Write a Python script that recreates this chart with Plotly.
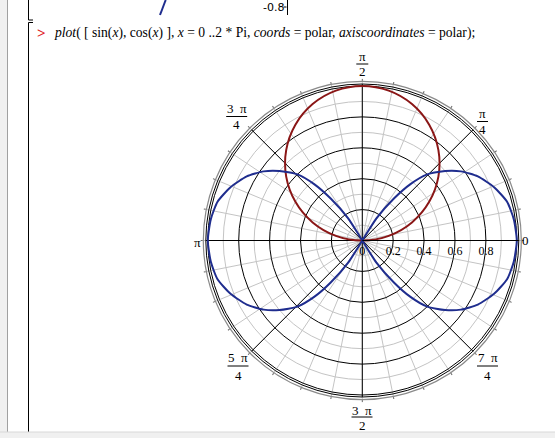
import plotly.graph_objects as go

# ---------------- data ----------------
# r = sin(x) curve (red), angle in degrees
red_theta = [0, 10, 20, 30, 40, 50, 60, 70, 80, 90, 100, 110, 120, 130, 140, 150, 160, 170, 180]
red_r = [0.0, 0.174, 0.342, 0.50, 0.643, 0.766, 0.866, 0.94, 0.985, 1.0,
         0.985, 0.94, 0.866, 0.766, 0.643, 0.50, 0.342, 0.174, 0.0]

# cos(x) curve (blue), figure-eight path as drawn
blue_theta = [0, 8, 15, 22, 29, 35, 40, 45.5, 49.5, 53, 57.5, 60,
              237.5, 233, 229.5, 225.5, 220, 215, 209, 202, 195, 188, 180,
              172, 165, 158, 151, 145, 140, 134.5, 130.5, 127, 122.5, 120,
              302.5, 307, 310.5, 314.5, 320, 325, 331, 338, 345, 352, 360]
blue_r = [1.0, 0.99, 0.97, 0.92, 0.855, 0.78, 0.70, 0.60, 0.48, 0.34, 0.17, 0.0,
          0.17, 0.34, 0.48, 0.60, 0.70, 0.78, 0.855, 0.92, 0.97, 0.99, 1.0,
          0.99, 0.97, 0.92, 0.855, 0.78, 0.70, 0.60, 0.48, 0.34, 0.17, 0.0,
          0.17, 0.34, 0.48, 0.60, 0.70, 0.78, 0.855, 0.92, 0.97, 0.99, 1.0]

radial_ticks = [0, 0.2, 0.4, 0.6, 0.8, 1.0]
radial_ticktext = ["0", "0.2", "0.4", "0.6", "0.8", ""]
minor_radial = [0.1, 0.3, 0.5, 0.7, 0.9]
major_angles = [0, 45, 90, 135, 180, 225, 270, 315]
minor_angles = [i * 11.25 for i in range(32)]

# ---------------- geometry ----------------
W, H = 555, 438
CX, CY = 362.3, 240.5       # pole in pixels
R_UNIT = 154.5              # pixels per radial unit
R_OUT = 156.5               # black outer ring
R_OUT2 = 159.0              # grey outer ring

def px(x):
    return x / W

def py(y):
    return 1 - y / H

def dom(R):
    return dict(x=[px(CX - R), px(CX + R)], y=[py(CY + R), py(CY - R)])

SERIF = "Liberation Serif"

fig = go.Figure()
fig.add_trace(go.Scatterpolar(r=[], theta=[], subplot="polar", showlegend=False))
fig.add_trace(go.Scatterpolar(r=red_r, theta=red_theta, mode="lines", subplot="polar2",
                              line=dict(color="#8a1616", width=2, shape="spline"),
                              showlegend=False, hoverinfo="skip"))
fig.add_trace(go.Scatterpolar(r=blue_r, theta=blue_theta, mode="lines", subplot="polar2",
                              line=dict(color="#1f2d8e", width=2, shape="spline", smoothing=0.6),
                              showlegend=False, hoverinfo="skip"))

fig.update_layout(
    width=W, height=H, autosize=False,
    margin=dict(l=0, r=0, t=0, b=0),
    paper_bgcolor="white",
    polar=dict(
        domain=dom(R_OUT2),
        bgcolor="white",
        radialaxis=dict(range=[0, R_OUT2 / R_UNIT], tickvals=minor_radial,
                        showticklabels=False, ticks="", showline=False,
                        gridcolor="#c4c4c4", gridwidth=1),
        angularaxis=dict(tickvals=minor_angles, showticklabels=False,
                         ticks="outside", ticklen=2, tickcolor="#666",
                         gridcolor="#c4c4c4", gridwidth=1,
                         showline=True, linecolor="#8a8a8a", linewidth=1.2,
                         rotation=0, direction="counterclockwise"),
    ),
    polar2=dict(
        domain=dom(R_OUT),
        bgcolor="rgba(0,0,0,0)",
        radialaxis=dict(range=[0, R_OUT / R_UNIT], tickvals=radial_ticks,
                        ticktext=radial_ticktext, angle=0,
                        tickfont=dict(family=SERIF, size=12, color="black"),
                        ticks="", showline=True, linecolor="black", linewidth=1,
                        gridcolor="black", gridwidth=1),
        angularaxis=dict(tickvals=major_angles, showticklabels=False, ticks="",
                         gridcolor="black", gridwidth=1,
                         showline=True, linecolor="black", linewidth=1,
                         rotation=0, direction="counterclockwise"),
    ),
)

ann = []
shapes = []

def text(x, y, s, size=13, color="black", family=SERIF, xanchor="center"):
    ann.append(dict(x=px(x), y=py(y), xref="paper", yref="paper", text=s, showarrow=False,
                    xanchor=xanchor, yanchor="middle",
                    font=dict(family=family, size=size, color=color)))

def hline(x0, x1, y, color="black", width=1):
    shapes.append(dict(type="line", xref="paper", yref="paper", x0=px(x0), x1=px(x1),
                       y0=py(y), y1=py(y), line=dict(color=color, width=width)))

def vline(x, y0, y1, color="black", width=1):
    shapes.append(dict(type="line", xref="paper", yref="paper", x0=px(x), x1=px(x),
                       y0=py(y0), y1=py(y1), line=dict(color=color, width=width)))

def frac(xc, ynum, ybar, yden, num, den, half):
    text(xc, ynum, num)
    hline(xc - half, xc + half, ybar)
    text(xc, yden, den)

# angular labels
frac(362.3, 57, 64, 71.5, "π", "2", 6)
frac(236.7, 108, 116.5, 124.5, "3&nbsp;&nbsp;π", "4", 10.5)
frac(482.5, 113, 121.5, 130, "π", "4", 5.5)
frac(238, 357, 366, 375, "5&nbsp;&nbsp;π", "4", 10.5)
frac(487.5, 357, 366, 375.5, "7&nbsp;&nbsp;π", "4", 10.5)
frac(362, 410, 417, 425, "3&nbsp;&nbsp;π", "2", 10.5)
text(197.5, 242, "π")
text(525.5, 240.5, "0")

# command line
text(41, 33, "<b>&gt;</b>", size=15, color="#e0201c")
text(52, 33, "<i>plot</i>( [ sin(<i>x</i>), cos(<i>x</i>) ], <i>x</i> = 0 ..2 * Pi, "
             "<i>coords</i> = polar, <i>axiscoordinates</i> = polar);",
     size=13.6, xanchor="left")

# previous plot fragment at top
text(273, 7, "-0.8", size=11, family="DejaVu Sans")
hline(283.5, 286.5, 7)
vline(287.5, 0, 15)
shapes.append(dict(type="line", xref="paper", yref="paper", x0=px(160), y0=py(15),
                   x1=px(165.7), y1=py(0), line=dict(color="#1f2d8e", width=2)))

# worksheet decorations
shapes.append(dict(type="rect", xref="paper", yref="paper", x0=0, x1=px(7), y0=0, y1=1,
                   fillcolor="#f0f0f0", line=dict(width=0), layer="below"))
vline(7.5, 0, 432, color="#a0a0a0")
vline(28.5, 0, 20)
hline(28.5, 33, 20)
vline(28.5, 22.5, 432)
hline(28.5, 33, 22.5)
shapes.append(dict(type="rect", xref="paper", yref="paper", x0=0, x1=1, y0=0, y1=py(432),
                   fillcolor="#f0f0f0", line=dict(width=0)))
hline(0, 555, 432, color="#d8d8d8")

fig.update_layout(annotations=ann, shapes=shapes)
fig.write_html("out.html", config={"displayModeBar": False, "staticPlot": True},
               post_script="document.body.style.margin='0px';document.body.style.overflow='hidden';")
